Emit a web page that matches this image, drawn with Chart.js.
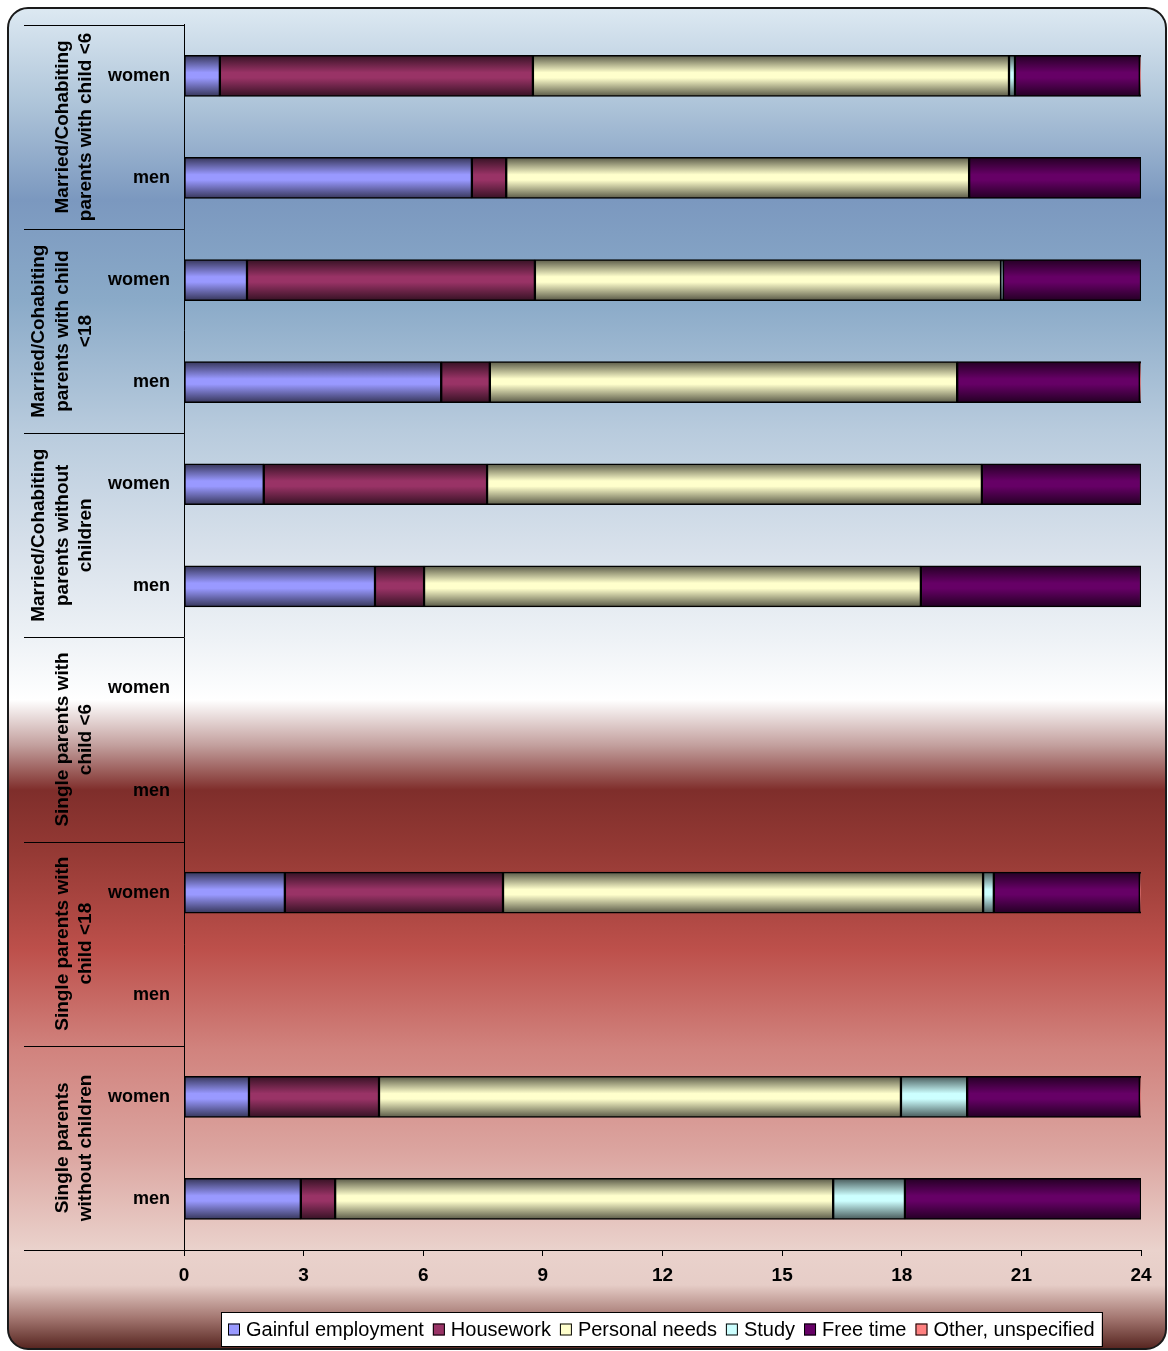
<!DOCTYPE html>
<html>
<head>
<meta charset="utf-8">
<script src="https://cdn.jsdelivr.net/npm/chart.js@4.4.1/dist/chart.umd.min.js"></script>
<style>
  html, body { margin: 0; padding: 0; background: #fff; }
  canvas { display: block; }
</style>
</head>
<body>
<canvas id="timeChart" width="1168" height="1351"></canvas>
<script>
const FONT = "'Liberation Sans', Arial, sans-serif";
const NARROW = "'Liberation Sans Narrow', 'Liberation Sans', Arial, sans-serif";

// row labels (top to bottom), two rows per group
const rowLabels = ["women", "men", "women", "men", "women", "men", "women", "men", "women", "men", "women", "men"];
const groupLabels = [
  ["Married/Cohabiting", "parents with child <6"],
  ["Married/Cohabiting", "parents with child", "<18"],
  ["Married/Cohabiting", "parents without", "children"],
  ["Single parents with", "child <6"],
  ["Single parents with", "child <18"],
  ["Single parents", "without children"],
];

// hours per day
const employment    = [0.90, 7.22, 1.58, 6.45, 2.00, 4.79, null, null, 2.53, null, 1.63, 2.93];
const housework     = [7.85, 0.86, 7.22, 1.22, 5.60, 1.23, null, null, 5.47, null, 3.26, 0.86];
const personalNeeds = [11.94, 11.61, 11.69, 11.72, 12.41, 12.46, null, null, 12.04, null, 13.09, 12.49];
const study         = [0.15, null, 0.05, null, null, null, null, null, 0.27, null, 1.66, 1.80];
const freeTime      = [3.13, 4.31, 3.46, 4.58, 3.99, 5.52, null, null, 3.66, null, 4.33, 5.92];
const other         = [0.03, null, null, 0.03, null, null, null, null, 0.03, null, 0.03, null];

const xTicks = [0, 3, 6, 9, 12, 15, 18, 21, 24];

const BAR_H = 41;

function shade(hex, f) {
  const n = parseInt(hex.slice(1), 16);
  const r = Math.round(((n >> 16) & 255) * f);
  const g = Math.round(((n >> 8) & 255) * f);
  const b = Math.round((n & 255) * f);
  return `rgb(${r},${g},${b})`;
}

function barFill(base) {
  return (context) => {
    const chart = context.chart;
    const yScale = chart.scales && chart.scales.y;
    if (context.type !== "data" || !yScale) return base;
    const yc = yScale.getPixelForValue(context.dataIndex);
    if (!isFinite(yc)) return base;
    const g = chart.ctx.createLinearGradient(0, yc - BAR_H / 2, 0, yc + BAR_H / 2);
    g.addColorStop(0, shade(base, 0.35));
    g.addColorStop(0.42, base);
    g.addColorStop(0.55, base);
    g.addColorStop(1, shade(base, 0.35));
    return g;
  };
}

function series(label, data, color) {
  return {
    label,
    data,
    legendColor: color,
    backgroundColor: barFill(color),
    borderColor: "#000",
    borderWidth: 1.5,
    borderSkipped: false,
    barThickness: BAR_H,
  };
}

const bgPlugin = {
  id: "frameBackground",
  beforeDraw(chart) {
    const ctx = chart.ctx;
    const W = chart.width, H = chart.height;
    ctx.save();
    ctx.fillStyle = "#fff";
    ctx.fillRect(0, 0, W, H);
    const x0 = 8, y0 = 8, x1 = 1166, y1 = 1349, r = 20;
    ctx.beginPath();
    ctx.moveTo(x0 + r, y0);
    ctx.lineTo(x1 - r, y0);
    ctx.arcTo(x1, y0, x1, y0 + r, r);
    ctx.lineTo(x1, y1 - r);
    ctx.arcTo(x1, y1, x1 - r, y1, r);
    ctx.lineTo(x0 + r, y1);
    ctx.arcTo(x0, y1, x0, y1 - r, r);
    ctx.lineTo(x0, y0 + r);
    ctx.arcTo(x0, y0, x0 + r, y0, r);
    ctx.closePath();
    const g = ctx.createLinearGradient(0, y0, 0, y1);
    const stops = [
      [8, "#dde9f2"], [100, "#b0c6da"], [200, "#7b98bf"], [300, "#8aaac8"],
      [430, "#b8cbdd"], [550, "#d8e1eb"], [640, "#eef2f6"], [700, "#ffffff"],
      [745, "#c3a09e"], [790, "#7f2e2b"], [850, "#943934"], [950, "#bd504b"],
      [1050, "#d1837e"], [1150, "#dba49f"], [1250, "#ead2cc"], [1285, "#e6cdc7"],
      [1318, "#a37670"], [1349, "#55241f"],
    ];
    stops.forEach(([y, c]) => g.addColorStop((y - y0) / (y1 - y0), c));
    ctx.fillStyle = g;
    ctx.fill();
    ctx.lineWidth = 2;
    ctx.strokeStyle = "#1a1a1a";
    ctx.stroke();
    ctx.restore();
  },
};

const groupPlugin = {
  id: "groupLabels",
  afterDraw(chart) {
    const ctx = chart.ctx;
    const area = chart.chartArea;
    const left = 24;
    const step = (area.bottom - area.top) / groupLabels.length;
    ctx.save();
    ctx.strokeStyle = "#000";
    ctx.lineWidth = 1;
    for (let i = 0; i <= groupLabels.length; i++) {
      const y = Math.round(area.top + i * step) + 0.5;
      ctx.beginPath();
      ctx.moveTo(left, y);
      ctx.lineTo(area.left, y);
      ctx.stroke();
    }
    ctx.fillStyle = "#000";
    ctx.font = `bold 19px ${FONT}`;
    ctx.textAlign = "center";
    ctx.textBaseline = "middle";
    groupLabels.forEach((lines, i) => {
      const yc = area.top + (i + 0.5) * step;
      const n = lines.length;
      lines.forEach((line, j) => {
        const x = 86 - (n - 1 - j) * 23.5;
        ctx.save();
        ctx.translate(x, yc);
        ctx.rotate(-Math.PI / 2);
        ctx.fillText(line, 0, 0);
        ctx.restore();
      });
    });
    ctx.restore();
  },
};

const legendPlugin = {
  id: "boxLegend",
  afterDraw(chart) {
    const ctx = chart.ctx;
    const sets = chart.data.datasets;
    ctx.save();
    ctx.font = `20px ${FONT}`;
    const box = 12, gapBox = 6, gapItem = 9, pad = 7;
    const widths = sets.map((d) => box + gapBox + ctx.measureText(d.label).width);
    const total = widths.reduce((a, b) => a + b, 0) + gapItem * (sets.length - 1);
    const cx = 661, top = 1312, h = 34;
    const bx = Math.round(cx - total / 2 - pad);
    ctx.fillStyle = "#fff";
    ctx.fillRect(bx, top, total + pad * 2, h);
    ctx.strokeStyle = "#000";
    ctx.lineWidth = 1;
    ctx.strokeRect(bx + 0.5, top + 0.5, Math.round(total + pad * 2), h);
    let x = bx + pad;
    const yc = top + h / 2 + 0.5;
    ctx.textBaseline = "middle";
    ctx.textAlign = "left";
    sets.forEach((d, i) => {
      ctx.fillStyle = d.legendColor;
      ctx.fillRect(x, yc - box / 2, box, box);
      ctx.strokeStyle = "#000";
      ctx.strokeRect(x + 0.5, yc - box / 2 + 0.5, box - 1, box - 1);
      ctx.fillStyle = "#000";
      ctx.fillText(d.label, x + box + gapBox, yc + 1);
      x += widths[i] + gapItem;
    });
    ctx.restore();
  },
};

new Chart(document.getElementById("timeChart"), {
  type: "bar",
  data: {
    labels: rowLabels,
    datasets: [
      series("Gainful employment", employment, "#9999ff"),
      series("Housework", housework, "#993366"),
      series("Personal needs", personalNeeds, "#ffffcc"),
      series("Study", study, "#ccffff"),
      series("Free time", freeTime, "#660066"),
      series("Other, unspecified", other, "#ff8080"),
    ],
  },
  options: {
    indexAxis: "y",
    responsive: false,
    animation: false,
    devicePixelRatio: 1,
    layout: { padding: { left: 24, top: 24, right: 27, bottom: 51 } },
    plugins: {
      legend: { display: false },
      tooltip: { enabled: false },
    },
    scales: {
      x: {
        stacked: true,
        min: 0,
        max: 24,
        afterBuildTicks: (scale) => {
          scale.ticks = xTicks.map((v) => ({ value: v }));
        },
        afterFit: (scale) => { scale.height = 50; },
        grid: { display: true, drawOnChartArea: false, drawTicks: true, tickLength: 6, color: "#000" },
        border: { display: true, color: "#000", width: 1 },
        ticks: {
          color: "#000",
          padding: 8,
          maxRotation: 0,
          font: { family: NARROW, size: 19, weight: "bold" },
        },
      },
      y: {
        stacked: true,
        afterFit: (scale) => { scale.width = 160; },
        grid: { display: false, tickLength: 0 },
        border: { display: true, color: "#000", width: 1 },
        ticks: {
          color: "#000",
          padding: 14,
          font: { family: FONT, size: 18, weight: "bold" },
        },
      },
    },
  },
  plugins: [bgPlugin, groupPlugin, legendPlugin],
});
</script>
</body>
</html>
